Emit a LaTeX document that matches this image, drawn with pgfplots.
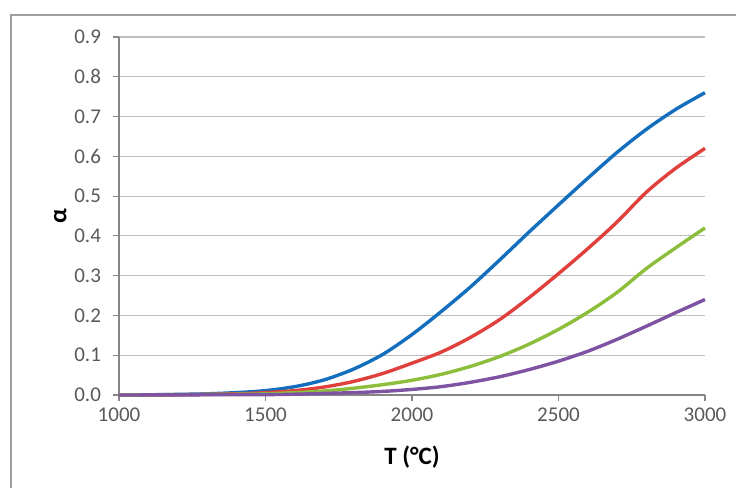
\documentclass[border=0pt]{standalone}
\usepackage{fontspec}
\setmainfont{Carlito}
\usepackage{pgfplots}
\pgfplotsset{compat=1.18}
\definecolor{cblue}{RGB}{20,110,190}
\definecolor{cred}{RGB}{224,64,60}
\definecolor{cgreen}{RGB}{140,190,60}
\definecolor{cpurple}{RGB}{126,84,162}
\definecolor{tickgray}{RGB}{89,89,89}
\definecolor{gridgray}{RGB}{190,190,190}
\definecolor{axgray}{RGB}{134,134,134}
\definecolor{framegray}{RGB}{160,160,160}
\begin{document}
\begin{tikzpicture}
\begin{axis}[
  anchor=south west, at={(0pt,0pt)},
  scale only axis, width=293pt, height=179pt,
  xmin=1000, xmax=3000, ymin=0, ymax=0.9,
  xtick={1000,1500,2000,2500,3000},
  ytick={0,0.1,0.2,0.3,0.4,0.5,0.6,0.7,0.8,0.9},
  axis lines*=left,
  axis line style={axgray, line width=0.6pt},
  ymajorgrids, grid style={gridgray, line width=0.6pt},
  tick align=outside, major tick length=3pt,
  tick style={axgray, line width=0.6pt},
  xtick pos=bottom, ytick pos=left,
  /pgf/number format/assume math mode=true,
  ticklabel style={font=\fontsize{10.5}{12}\selectfont, text=tickgray},
  yticklabel style={/pgf/number format/.cd, fixed, precision=1, zerofill, /tikz/.cd, xshift=-2.5pt},
  xticklabel style={/pgf/number format/.cd, set thousands separator={}, /tikz/.cd},
  xlabel={T (°C)}, ylabel={α},
  label style={font=\fontsize{12.5}{14}\selectfont\bfseries, text=black},
  xlabel style={at={(axis description cs:0.5,-0.173)}, anchor=center},
  ylabel style={at={(axis description cs:-0.1,0.5)}, anchor=center},
  every axis plot/.append style={line width=1.7pt, smooth, no markers},
  clip=false,
]
\addplot[cblue] coordinates {
(1000,0) (1100,0.0005) (1200,0.0015) (1300,0.003) (1400,0.006) (1500,0.011)
(1600,0.021) (1700,0.038) (1800,0.065) (1900,0.102) (2000,0.152) (2100,0.21)
(2200,0.272) (2300,0.34) (2400,0.41) (2500,0.478) (2600,0.545) (2700,0.61)
(2800,0.668) (2900,0.718) (3000,0.76)};
\addplot[cred] coordinates {
(1000,0) (1200,0.0005) (1400,0.003) (1500,0.006) (1600,0.011) (1700,0.02)
(1800,0.034) (1900,0.054) (2000,0.08) (2100,0.108) (2200,0.145) (2300,0.19)
(2400,0.245) (2500,0.305) (2600,0.368) (2700,0.435) (2800,0.51) (2900,0.57)
(3000,0.62)};
\addplot[cgreen] coordinates {
(1000,0) (1400,0.002) (1500,0.003) (1600,0.006) (1700,0.01) (1800,0.017)
(1900,0.026) (2000,0.037) (2100,0.052) (2200,0.072) (2300,0.097) (2400,0.128)
(2500,0.165) (2600,0.208) (2700,0.258) (2800,0.318) (2900,0.37) (3000,0.42)};
\addplot[cpurple] coordinates {
(1000,0) (1500,0.001) (1600,0.002) (1700,0.004) (1800,0.006) (1900,0.009)
(2000,0.014) (2100,0.021) (2200,0.032) (2300,0.046) (2400,0.064) (2500,0.085)
(2600,0.11) (2700,0.14) (2800,0.173) (2900,0.207) (3000,0.24)};
\end{axis}
\draw[framegray, line width=0.8pt] (-54pt,-46.5pt) -- (-54pt,190pt) -- (308.5pt,190pt);
\pgfresetboundingbox
\useasboundingbox (-59.5pt,-46.5pt) rectangle (308.5pt,197.5pt);
\end{tikzpicture}
\end{document}
